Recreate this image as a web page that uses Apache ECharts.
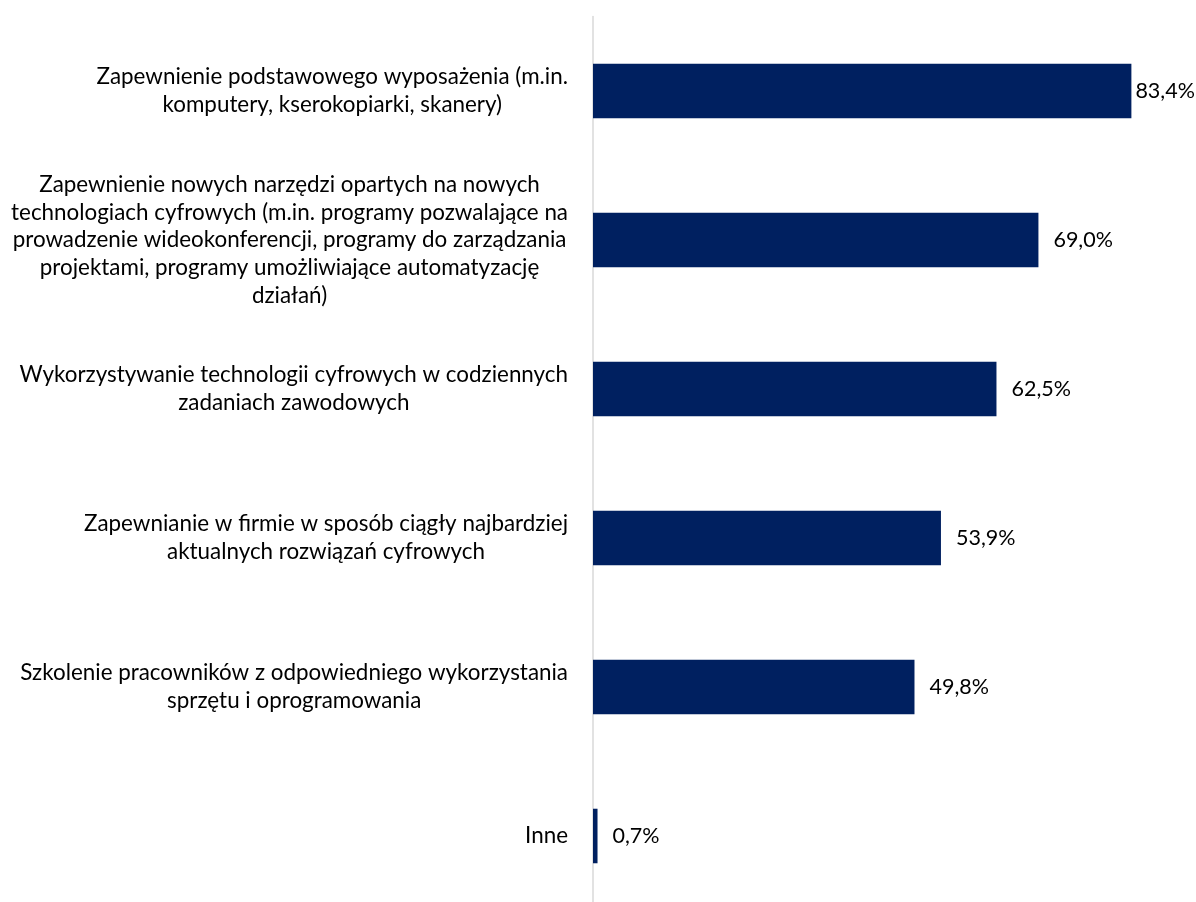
<!DOCTYPE html>
<html>
<head>
<meta charset="utf-8">
<script src="https://cdn.jsdelivr.net/npm/echarts@6/dist/echarts.min.js"></script>
<style>
  html, body { margin: 0; padding: 0; background: #ffffff; }
  #chart { width: 1196px; height: 902px; }
</style>
</head>
<body>
<div id="chart"></div>
<script>
// Category labels (lines broken as they should be shown)
const categories = [
  'Zapewnienie podstawowego wyposażenia (m.in.\nkomputery, kserokopiarki, skanery)',
  'Zapewnienie nowych narzędzi opartych na nowych\ntechnologiach cyfrowych (m.in. programy pozwalające na\nprowadzenie wideokonferencji, programy do zarządzania\nprojektami, programy umożliwiające automatyzację\ndziałań)',
  'Wykorzystywanie technologii cyfrowych w codziennych\nzadaniach zawodowych',
  'Zapewnianie w firmie w sposób ciągły najbardziej\naktualnych rozwiązań cyfrowych',
  'Szkolenie pracowników z odpowiedniego wykorzystania\nsprzętu i oprogramowania',
  'Inne'
];

// Share of responses, percent
const values = [83.4, 69.0, 62.5, 53.9, 49.8, 0.7];

const FONT = 'Lato, "Open Sans", sans-serif';
const AXIS_MAX = 90;

// Value labels sit 15px right of the bar; the longest bar's label is
// pulled in close so it stays inside the canvas.
const barData = values.map(function (v) {
  return v > 80 ? { value: v, label: { distance: 4 } } : v;
});

const chart = echarts.init(document.getElementById('chart'), null, { renderer: 'canvas' });

chart.setOption({
  animation: false,
  backgroundColor: '#ffffff',
  grid: {
    left: 593, right: 22, top: 16.5, bottom: -8.5,
    containLabel: false,
    outerBoundsMode: 'none'
  },
  xAxis: {
    type: 'value',
    min: 0,
    max: AXIS_MAX,
    show: false,
    splitLine: { show: false }
  },
  yAxis: {
    type: 'category',
    inverse: true,
    data: categories,
    axisLine: { show: true, lineStyle: { color: '#d9d9d9', width: 1.5 } },
    axisTick: { show: false },
    axisLabel: {
      margin: 25,
      align: 'right',
      formatter: function (v) {
        return v.split('\n').map(function (l) { return '{c|' + l + '}'; }).join('\n');
      },
      rich: {
        c: { align: 'center', fontFamily: FONT, fontSize: 22.4, color: '#000000', lineHeight: 27.7 }
      }
    }
  },
  series: [{
    type: 'bar',
    data: barData,
    barWidth: '36.6%',
    itemStyle: { color: '#002060' },
    label: {
      show: true,
      position: 'right',
      distance: 15,
      fontFamily: FONT,
      fontSize: 21.5,
      color: '#000000',
      formatter: function (p) { return p.value.toFixed(1).replace('.', ',') + '%'; }
    }
  }]
});
</script>
</body>
</html>
